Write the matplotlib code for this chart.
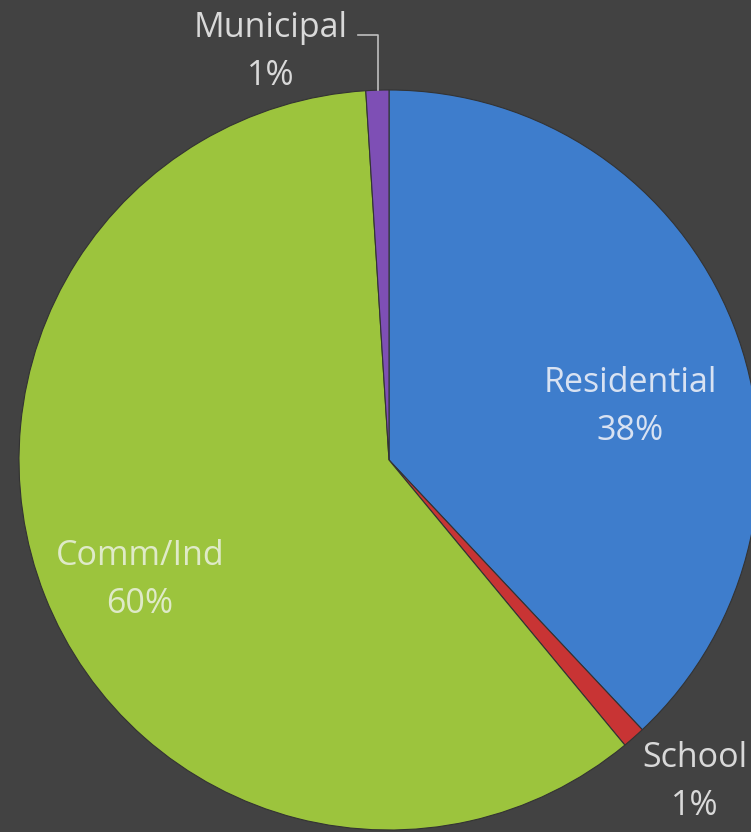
import matplotlib.pyplot as plt

# Share of usage by customer class
categories = ['Residential', 'School', 'Comm/Ind', 'Municipal']
shares = [38, 1, 60, 1]
pct_labels = ['38%', '1%', '60%', '1%']
colors = ['#3e7dcc', '#c83434', '#9cc43d', '#7e4fb5']

bg = '#424242'
txt = '#d9d9d9'

fig = plt.figure(figsize=(7.51, 8.32), dpi=100, facecolor=bg)
ax = fig.add_axes([0, 0, 1, 1])
ax.set_facecolor(bg)

# pie in pixel-like data coordinates, starting at 12 o'clock, clockwise
wedges, _ = ax.pie(shares, colors=colors, startangle=90, counterclock=False,
                   center=(389, 372), radius=370,
                   wedgeprops=dict(edgecolor='#333333', linewidth=0.8))

# pie() sets its own limits, so fix them afterwards
ax.set_xlim(0, 751)
ax.set_ylim(0, 832)
ax.set_aspect('equal')
ax.axis('off')

fs = 24.5
font = 'Open Sans'
# label positions (x, y of the two-line block centre)
label_pos = {'Residential': (630, 425), 'School': (695, 50),
             'Comm/Ind': (140, 252), 'Municipal': (271, 780)}
label_col = {'Residential': '#d8e2f2', 'School': txt,
             'Comm/Ind': '#dfeac8', 'Municipal': txt}

for cat, pct in zip(categories, pct_labels):
    x, y = label_pos[cat]
    ax.text(x, y, f'{cat}\n{pct}', ha='center', va='center', fontsize=fs,
            color=label_col[cat], family=font, linespacing=1.55)

# leader line for Municipal
ax.plot([358, 378, 378], [797, 797, 742], color='#bfbfbf', lw=1.2)

fig.savefig('out.png', dpi=100, facecolor=bg)
